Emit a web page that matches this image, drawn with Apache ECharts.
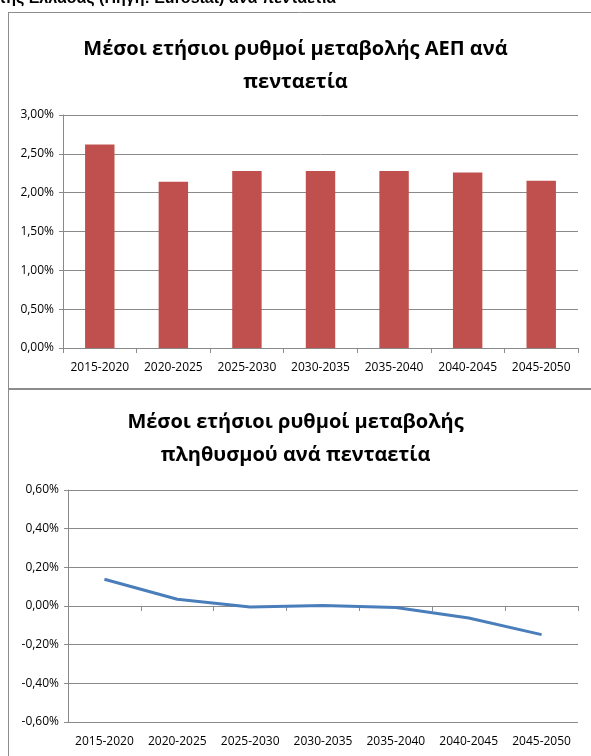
<!DOCTYPE html>
<html>
<head>
<meta charset="utf-8">
<script src="https://cdn.jsdelivr.net/npm/echarts@6/dist/echarts.min.js"></script>
<style>
  html, body { margin: 0; padding: 0; background: #fff; }
  #chart { width: 591px; height: 756px; }
</style>
</head>
<body>
<div id="chart"></div>
<script>
// periods shared by both charts
var periods = ["2015-2020", "2020-2025", "2025-2030", "2030-2035", "2035-2040", "2040-2045", "2045-2050"];
// GDP average annual change, %
var gdpRates = [2.62, 2.14, 2.28, 2.28, 2.28, 2.26, 2.155];
// population average annual change, %
var popRates = [0.138, 0.035, -0.005, 0.003, -0.008, -0.062, -0.148];

var gdpTitle = "Μέσοι ετήσιοι ρυθμοί μεταβολής ΑΕΠ ανά\nπενταετία";
var popTitle = "Μέσοι ετήσιοι ρυθμοί μεταβολής\nπληθυσμού ανά πενταετία";
var headerText = "της Ελλάδας (Πηγή: Eurostat) ανά πενταετία";

var font = "'Open Sans', sans-serif";
var gridColor = "#8a8a8a";

function pct(v) {
  return v.toFixed(2).replace(".", ",") + "%";
}

function catAxis(gridIndex) {
  return {
    type: "category",
    gridIndex: gridIndex,
    data: periods,
    boundaryGap: true,
    axisLine: { lineStyle: { color: gridColor } },
    axisTick: { show: true, length: 5, lineStyle: { color: gridColor } },
    axisLabel: { color: "#000", fontFamily: font, fontSize: 12, margin: 14, interval: 0 }
  };
}

function valAxis(gridIndex, min, max, step) {
  return {
    type: "value",
    gridIndex: gridIndex,
    min: min,
    max: max,
    interval: step,
    axisLine: { show: true, lineStyle: { color: gridColor } },
    axisTick: { show: true, length: 4, lineStyle: { color: gridColor } },
    splitLine: { lineStyle: { color: gridColor } },
    axisLabel: { color: "#000", fontFamily: font, fontSize: 12, margin: 9, formatter: pct }
  };
}

var titleStyle = { fontFamily: font, fontSize: 20, fontWeight: "bold", color: "#000", lineHeight: 33 };

var chart = echarts.init(document.getElementById("chart"));
chart.setOption({
  animation: false,
  title: [
    { text: gdpTitle, left: "center", top: 28, textStyle: titleStyle },
    { text: popTitle, left: "center", top: 401, textStyle: titleStyle }
  ],
  grid: [
    { left: 63, right: 13, top: 115, height: 233 },
    { left: 68, right: 13, top: 490, height: 232 }
  ],
  xAxis: [catAxis(0), catAxis(1)],
  yAxis: [valAxis(0, 0, 3, 0.5), valAxis(1, -0.6, 0.6, 0.2)],
  series: [
    {
      type: "bar", xAxisIndex: 0, yAxisIndex: 0,
      data: gdpRates, barWidth: "40%",
      itemStyle: { color: "#c0504d" }
    },
    {
      type: "line", xAxisIndex: 1, yAxisIndex: 1,
      data: popRates, showSymbol: false,
      lineStyle: { color: "#4a7ebb", width: 3 }
    }
  ],
  graphic: [
    {
      type: "text", left: -1, top: -9,
      style: { text: headerText, fontFamily: "'Liberation Sans', Arial, sans-serif", fontSize: 16, fontWeight: "bold", fill: "#000" }
    },
    { type: "line", shape: { x1: 8.5, y1: 12, x2: 8.5, y2: 756 }, style: { stroke: "#8c8c8c", lineWidth: 1 } },
    { type: "line", shape: { x1: 8, y1: 12.5, x2: 591, y2: 12.5 }, style: { stroke: "#8c8c8c", lineWidth: 1 } },
    { type: "line", shape: { x1: 8, y1: 389, x2: 591, y2: 389 }, style: { stroke: "#8c8c8c", lineWidth: 2 } }
  ]
});
</script>
</body>
</html>
